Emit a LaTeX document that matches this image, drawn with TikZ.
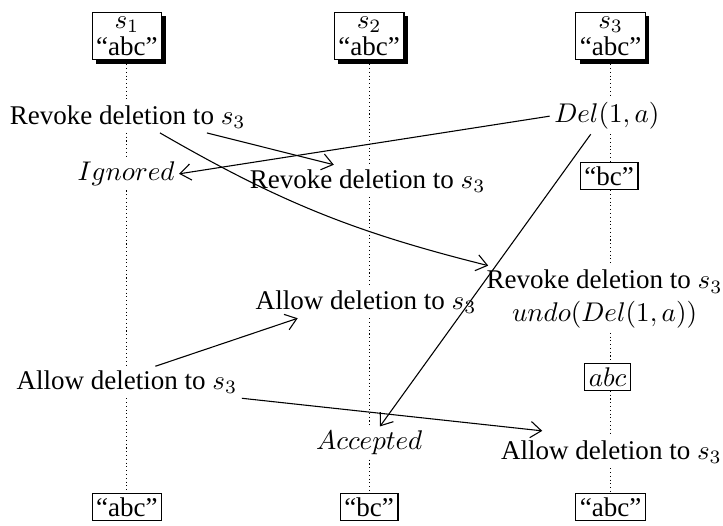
\documentclass[tikz,border=0pt]{standalone}
\usepackage{fontspec}
\setmainfont{Liberation Serif}
\usetikzlibrary{shadows,arrows.meta}

\begin{document}
\begin{tikzpicture}[
		proc/.style={draw, fill=white, inner sep=1.5pt, align=center,
			drop shadow={shadow xshift=1.4pt, shadow yshift=-1.4pt, opacity=1, fill=black}},
		state/.style={draw, inner sep=1.5pt},
		event/.style={inner sep=1.5pt, align=center},
		lifeline/.style={densely dotted},
		msg/.style={-{Straight Barb[length=4pt,width=6pt]}}]
			\useasboundingbox (0,0) rectangle (9.40,-6.83);
			
			% replicas
			\node[proc] (top1) at (1.65,-0.47) {$s_1$\\[-1.8pt]``abc''};
			\node[proc] (top2) at (4.80,-0.47) {$s_2$\\[-1.8pt]``abc''};
			\node[proc] (top3) at (7.94,-0.47) {$s_3$\\[-1.8pt]``abc''};
			
			% events
			\node[event] (rev1) at (1.66,-1.52) {Revoke deletion to $s_3$};
			\node[event] (del) at (7.89,-1.51) {$Del(1,a)$};
			\node[event] (ignored) at (1.64,-2.26) {$Ignored$};
			\node[event] (rev2) at (4.78,-2.35) {Revoke deletion to $s_3$};
			\node[state] (bc) at (7.92,-2.29) {``bc''};
			\node[event] (rev3) at (7.86,-3.89) {Revoke deletion to $s_3$\\$undo(Del(1,a))$};
			\node[event] (allow2) at (4.76,-3.93) {Allow deletion to $s_3$};
			\node[event] (allow1) at (1.65,-4.97) {Allow deletion to $s_3$};
			\node[state] (abc) at (7.90,-4.90) {$abc$};
			\node[event] (accepted) at (4.80,-5.76) {$Accepted$};
			\node[event] (allow3) at (7.95,-5.88) {Allow deletion to $s_3$};
			
			% final states
			\node[state] (bot1) at (1.65,-6.59) {``abc''};
			\node[state] (bot2) at (4.80,-6.59) {``bc''};
			\node[state] (bot3) at (7.94,-6.59) {``abc''};
			
			% lifelines
			\foreach \s/\a/\b in {top1/top1/rev1, top1/rev1/ignored, top1/ignored/allow1, top1/allow1/bot1,
				top2/top2/rev2, top2/rev2/allow2, top2/allow2/accepted, top2/accepted/bot2,
				top3/top3/del, top3/del/bc, top3/bc/rev3, top3/rev3/abc, top3/abc/allow3, top3/allow3/bot3}
				\draw[lifeline] (\s |- \a.south) -- (\s |- \b.north);
			
			% messages
			\draw[msg] ([xshift=1.03cm]rev1.south) -- ([xshift=-0.44cm]rev2.north);
			\draw[msg] ([xshift=0.42cm]rev1.south) to[bend right=8] ([xshift=0.08cm]rev3.north west);
			\draw[msg] (del.west) -- (ignored.east);
			\draw[msg] ([xshift=-0.21cm]del.south) -- ([xshift=0.14cm]accepted.north);
			\draw[msg] ([xshift=0.37cm]allow1.north) -- ([xshift=-0.89cm]allow2.south);
			\draw[msg] (allow1.south east) -- ([xshift=-0.9cm,yshift=2pt]allow3.north);
		\end{tikzpicture}
\end{document}
